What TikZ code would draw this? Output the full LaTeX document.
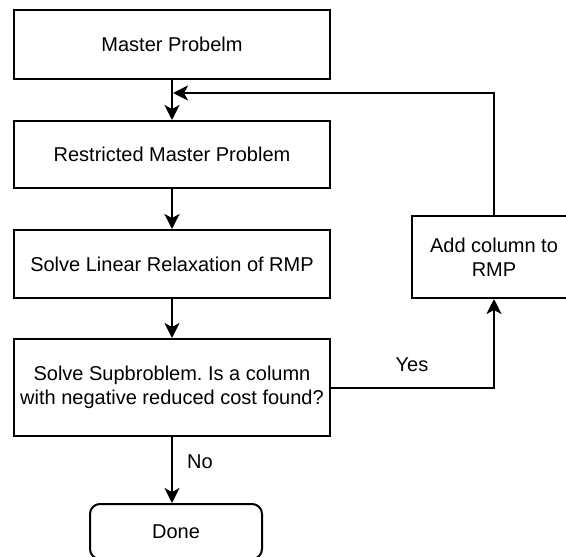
\documentclass[tikz,border=0pt]{standalone}
\usepackage{fontspec}
\setmainfont{Liberation Sans}
\usetikzlibrary{arrows.meta}
\frenchspacing
\begin{document}
\begin{tikzpicture}[x=1pt,y=-1pt,
  box/.style={draw,line width=2pt,minimum width=316pt,align=center,inner sep=0pt,
    font=\fontsize{20}{24}\selectfont},
  sidebox/.style={draw,line width=2pt,minimum width=164pt,minimum height=82pt,align=center,inner sep=0pt,
    font=\fontsize{20}{24}\selectfont},
  endbox/.style={draw,line width=2pt,rounded corners=10pt,minimum width=172pt,minimum height=55pt,inner sep=0pt,
    font=\fontsize{20}{24}\selectfont},
  conn/.style={line width=2pt,-{Stealth[length=15pt,width=15pt,inset=4pt]}},
  lbl/.style={font=\fontsize{20}{24}\selectfont,inner sep=0pt}]
\useasboundingbox (0,0) rectangle (566,557);
\clip (0,0) rectangle (566,557);
\fill[white] (0,0) rectangle (566,557);
\node[box,minimum height=69pt] (mp) at (172,44.5) {Master Probelm};
\node[box,minimum height=67pt] (rmp) at (172,154.5) {Restricted Master Problem};
\node[box,minimum height=68pt] (lr) at (172,264) {Solve Linear Relaxation of RMP};
\node[box,minimum height=97pt] (sub) at (172,387.5) {Solve Supbroblem. Is a column\\with negative reduced cost found?};
\node[endbox] (done) at (176,531.5) {Done};
\node[sidebox] (add) at (494,257) {Add column to\\RMP};
\coordinate (join) at (173,93);
\draw[conn] (mp.south) -- (rmp.north);
\draw[conn] (rmp.south) -- (lr.north);
\draw[conn] (lr.south) -- (sub.north);
\draw[conn] (sub.south) -- (sub.south |- done.north);
\draw[conn] (add.north) |- (join);
\draw[conn] (sub.east) -| (add.south);
\node[lbl] (no) at (200,462) {No};
\node[lbl] (yes) at (412,365) {Yes};
\end{tikzpicture}
\end{document}
